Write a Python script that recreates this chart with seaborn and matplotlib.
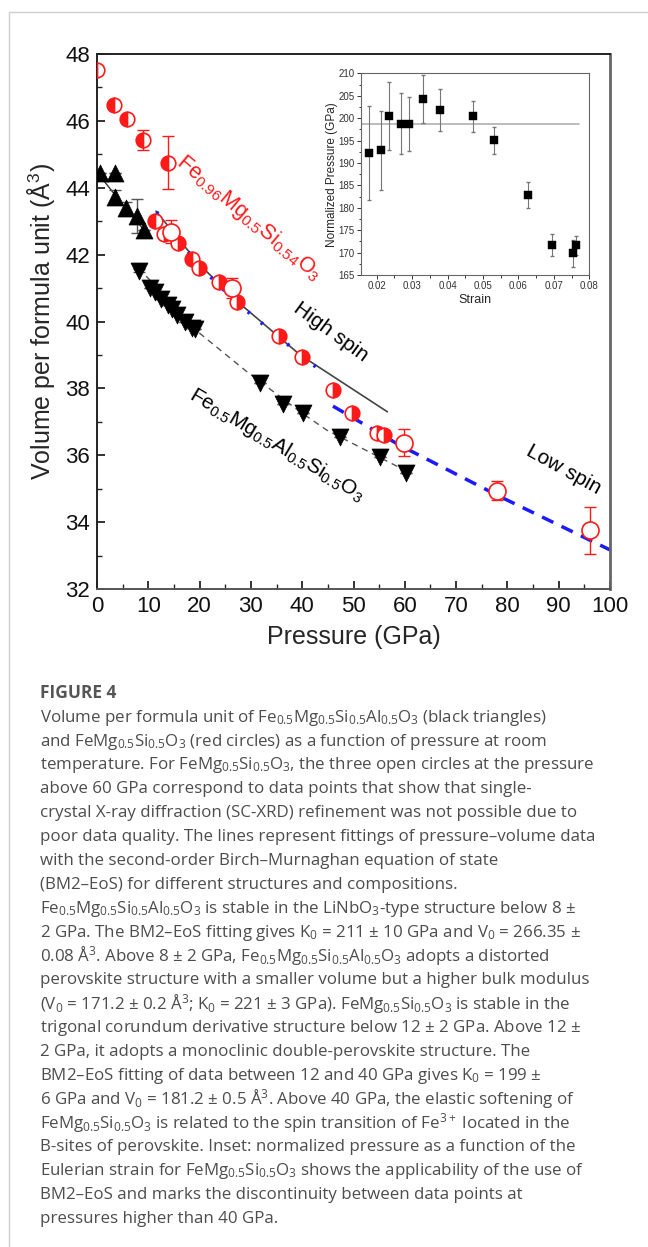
import matplotlib
matplotlib.use('Agg')
import matplotlib.pyplot as plt
import seaborn as sns
import pandas as pd
from matplotlib.lines import Line2D

# FeMg0.5Si0.5O3, corundum derivative (left half filled)
p_cor = [0.0, 3.4, 5.8, 9.0, 13.8]
v_cor = [47.52, 46.47, 46.05, 45.43, 44.75]
e_cor = [0.0, 0.0, 0.0, 0.3, 0.8]

# FeMg0.5Si0.5O3, double perovskite, left / right half filled
p_dp_left = [11.3, 18.45]
v_dp_left = [43.0, 41.86]
p_dp_right = [13.1, 15.85, 19.95, 23.85, 27.35, 35.5, 40.0, 46.1, 49.8, 54.5, 55.9]
v_dp_right = [42.62, 42.34, 41.59, 41.17, 40.57, 39.58, 38.95, 37.95, 37.25, 36.67, 36.6]

# open circles (no SC-XRD refinement)
p_open = [14.4, 26.3, 59.8, 78.0, 96.1]
v_open = [42.69, 40.99, 36.38, 34.94, 33.76]
e_open = [0.35, 0.3, 0.4, 0.28, 0.7]

# Fe0.5Mg0.5Al0.5Si0.5O3
p_lin = [0.6, 3.5, 3.5, 5.6, 7.7, 9.2]
v_lin = [44.45, 44.45, 43.73, 43.38, 43.15, 42.74]
e_lin = [0.0, 0.0, 0.2, 0.2, 0.5, 0.0]
p_pv = [8.1, 10.3, 11.3, 12.5, 13.8, 14.6, 15.5, 17.2, 18.6, 19.1,
        31.8, 36.2, 40.1, 47.4, 55.2, 60.2]
v_pv = [41.52, 41.0, 40.88, 40.68, 40.5, 40.38, 40.2, 40.0, 39.82, 39.78,
        38.17, 37.53, 37.27, 36.55, 35.94, 35.48]
e_pv = [0.05] + [0.0] * 15

# BM2-EoS fit curves
fit_lin_p = [0.7, 5.0, 9.7]
fit_lin_v = [44.33, 43.5, 42.64]
fit_pv_p = [8.1, 20.0, 29.2, 39.6, 44.8, 60.0]
fit_pv_v = [41.6, 39.65, 38.5, 37.3, 36.75, 35.55]
fit_hs_p = [11.5, 20.0, 27.35, 39.6, 56.6]
fit_hs_v = [43.3, 41.7, 40.6, 39.0, 37.3]
fit_hsb_p = [11.6, 20.0, 27.35, 35.5, 44.4]
fit_hsb_v = [43.28, 41.65, 40.55, 39.52, 38.43]
fit_ls_p = [46.0, 59.0, 78.6, 100.0]
fit_ls_v = [37.47, 36.3, 34.76, 33.17]

# inset: normalized pressure vs Eulerian strain
strain = [0.0179, 0.0211, 0.0236, 0.0269, 0.0291, 0.0331, 0.0380, 0.0472,
          0.0531, 0.0626, 0.0695, 0.0753, 0.0762]
norm_p = [192.3, 192.8, 200.4, 198.7, 198.7, 204.3, 201.8, 200.4,
          195.1, 182.8, 171.7, 169.8, 171.6]
norm_err = [10.5, 8.8, 7.6, 6.8, 6.1, 5.3, 4.7, 3.4, 3.0, 2.9, 2.4, 3.0, 2.1]
f0_level = 198.7
f0_strain = [0.0155, 0.0772]

caption_title = 'FIGURE 4'
caption_lines = [
    r'Volume per formula unit of Fe$_{0.5}$Mg$_{0.5}$Si$_{0.5}$Al$_{0.5}$O$_3$ (black triangles)',
    r'and FeMg$_{0.5}$Si$_{0.5}$O$_3$ (red circles) as a function of pressure at room',
    r'temperature. For FeMg$_{0.5}$Si$_{0.5}$O$_3$, the three open circles at the pressure',
    'above 60 GPa correspond to data points that show that single-',
    'crystal X-ray diffraction (SC-XRD) refinement was not possible due to',
    'poor data quality. The lines represent fittings of pressure\u2013volume data',
    'with the second-order Birch\u2013Murnaghan equation of state',
    '(BM2\u2013EoS) for different structures and compositions.',
    r'Fe$_{0.5}$Mg$_{0.5}$Si$_{0.5}$Al$_{0.5}$O$_3$ is stable in the LiNbO$_3$-type structure below 8 $\pm$',
    r'2 GPa. The BM2–EoS fitting gives K$_0$ = 211 $\pm$ 10 GPa and V$_0$ = 266.35 $\pm$',
    r'0.08 Å$^3$. Above 8 $\pm$ 2 GPa, Fe$_{0.5}$Mg$_{0.5}$Si$_{0.5}$Al$_{0.5}$O$_3$ adopts a distorted',
    'perovskite structure with a smaller volume but a higher bulk modulus',
    r'(V$_0$ = 171.2 $\pm$ 0.2 Å$^3$; K$_0$ = 221 $\pm$ 3 GPa). FeMg$_{0.5}$Si$_{0.5}$O$_3$ is stable in the',
    r'trigonal corundum derivative structure below 12 $\pm$ 2 GPa. Above 12 $\pm$',
    '2 GPa, it adopts a monoclinic double-perovskite structure. The',
    r'BM2–EoS fitting of data between 12 and 40 GPa gives K$_0$ = 199 $\pm$',
    r'6 GPa and V$_0$ = 181.2 $\pm$ 0.5 Å$^3$. Above 40 GPa, the elastic softening of',
    r'FeMg$_{0.5}$Si$_{0.5}$O$_3$ is related to the spin transition of Fe$^{3+}$ located in the',
    'B-sites of perovskite. Inset: normalized pressure as a function of the',
    r'Eulerian strain for FeMg$_{0.5}$Si$_{0.5}$O$_3$ shows the applicability of the use of',
    'BM2\u2013EoS and marks the discontinuity between data points at',
    'pressures higher than 40 GPa.',
]

sns.set_theme(style='ticks')
plt.rcParams['font.family'] = ['Liberation Sans', 'DejaVu Sans']
plt.rcParams['mathtext.default'] = 'regular'
plt.rcParams['xtick.direction'] = 'in'
plt.rcParams['ytick.direction'] = 'in'

W, H = 648, 1247
fig = plt.figure(figsize=(W / 100, H / 100), dpi=100)

# page frame
fig.add_artist(Line2D([8.5 / W, 8.5 / W], [0, 1 - 12 / H], color='#cfcfcf', lw=1))
fig.add_artist(Line2D([8.5 / W, 1], [1 - 12 / H, 1 - 12 / H], color='#cfcfcf', lw=1))

ax = fig.add_axes([97 / W, 1 - 589 / H, (610 - 97) / W, (589 - 54) / H])
red = '#ff1a1a'

# fit lines
sns.lineplot(x=fit_lin_p, y=fit_lin_v, ax=ax, color='#333333', lw=1, sort=False, estimator=None)
sns.lineplot(x=fit_pv_p, y=fit_pv_v, ax=ax, color='#555555', lw=1, sort=False, estimator=None,
             linestyle=(0, (4.5, 3.5)))
sns.lineplot(x=fit_hs_p, y=fit_hs_v, ax=ax, color='#444444', lw=1.2, sort=False, estimator=None)
sns.lineplot(x=fit_hsb_p, y=fit_hsb_v, ax=ax, color='#1a1aff', lw=2.6, sort=False, estimator=None,
             linestyle=(0, (0.7, 4.0)))
sns.lineplot(x=fit_ls_p, y=fit_ls_v, ax=ax, color='#1a1aff', lw=2.5, sort=False, estimator=None,
             linestyle=(0, (3.6, 2.6)))

# black triangles
ax.errorbar(p_lin, v_lin, yerr=e_lin, fmt='none', ecolor='#555555', elinewidth=1, capsize=4)
ax.errorbar(p_pv, v_pv, yerr=e_pv, fmt='none', ecolor='#555555', elinewidth=1, capsize=4)
sns.scatterplot(x=p_lin, y=v_lin, ax=ax, marker='^', s=150, color='black', edgecolor='black',
                linewidth=0.5, zorder=4)
sns.scatterplot(x=p_pv, y=v_pv, ax=ax, marker='v', s=150, color='black', edgecolor='black',
                linewidth=0.5, zorder=4)

# red circles
ax.errorbar(p_cor, v_cor, yerr=e_cor, fmt='none', ecolor=red, elinewidth=1, capsize=4)
ax.errorbar(p_open, v_open, yerr=e_open, fmt='none', ecolor=red, elinewidth=1, capsize=4)
half = dict(ls='none', marker='o', ms=10.5, mfc=red, mfcalt='white', mec=red, mew=1.2, zorder=5)
ax.plot(p_cor, v_cor, fillstyle='left', **half)
ax.plot(p_dp_left, v_dp_left, fillstyle='left', **half)
ax.plot(p_dp_right, v_dp_right, fillstyle='right', **half)
sns.scatterplot(x=p_open, y=v_open, ax=ax, marker='o', s=150, facecolor='white', edgecolor=red,
                linewidth=1.2, zorder=5)

ax.set_xlim(0, 100)
ax.set_ylim(32, 48)
ax.set_xticks(range(0, 101, 10))
ax.set_xticks(range(5, 100, 10), minor=True)
ax.set_yticks(range(32, 49, 2))
ax.set_yticks(range(33, 48, 2), minor=True)
ax.tick_params(which='major', length=6, width=1.2, labelsize=16, colors='#111111', pad=5)
ax.tick_params(which='minor', length=3.5, width=1.0)
ax.tick_params(top=False, right=False)
for s in ['left', 'bottom', 'top']:
    ax.spines[s].set_color('#222222')
    ax.spines[s].set_linewidth(1.4)
ax.spines['right'].set_color('#666666')
ax.spines['right'].set_linewidth(2)
ax.spines['bottom'].set_color('#555555')
ax.set_xlabel('Pressure (GPa)', fontsize=18, labelpad=6)
ax.set_ylabel('Volume per formula unit (Å$^3$)', fontsize=18, labelpad=6)

ax.text(29.6, 43.1, r'Fe$_{0.96}$Mg$_{0.5}$Si$_{0.54}$O$_3$', color=red, fontsize=15.5,
        rotation=-40, rotation_mode='anchor', ha='center', va='center')
ax.text(45.6, 39.69, 'High spin', color='black', fontsize=15,
        rotation=-36, rotation_mode='anchor', ha='center', va='center')
ax.text(90.9, 35.56, 'Low spin', color='black', fontsize=15,
        rotation=-29, rotation_mode='anchor', ha='center', va='center')
ax.text(35.0, 36.3, r'Fe$_{0.5}$Mg$_{0.5}$Al$_{0.5}$Si$_{0.5}$O$_3$', color='black', fontsize=15,
        rotation=-31, rotation_mode='anchor', ha='center', va='center')

# inset
ins = fig.add_axes([360.7 / W, 1 - 275 / H, (589.3 - 360.7) / W, (275 - 73.3) / H])
ins.plot(f0_strain, [f0_level, f0_level], color='#b0b0b0', lw=1.2)
ins.errorbar(strain, norm_p, yerr=norm_err, fmt='none', ecolor='#777777', elinewidth=0.8, capsize=1.5)
sns.scatterplot(x=strain, y=norm_p, ax=ins, marker='s', s=30, color='black', edgecolor='black',
                linewidth=0.3, zorder=4)
ins.set_xlim(0.0155, 0.08)
ins.set_ylim(165, 210)
ins.set_xticks([0.02, 0.03, 0.04, 0.05, 0.06, 0.07, 0.08])
ins.set_xticklabels(['0.02', '0.03', '0.04', '0.05', '0.06', '0.07', '0.08'])
ins.set_xticks([0.025, 0.035, 0.045, 0.055, 0.065, 0.075], minor=True)
ins.set_yticks(range(165, 211, 5))
ins.set_yticks([167.5 + 5 * i for i in range(9)], minor=True)
ins.tick_params(which='both', direction='out', labelsize=7, colors='#333333', width=0.7, pad=1.5)
ins.tick_params(which='major', length=3)
ins.tick_params(which='minor', length=1.8)
for s in ins.spines.values():
    s.set_color('#666666')
    s.set_linewidth(0.8)
ins.set_xlabel('Strain', fontsize=9, labelpad=2)
ins.set_ylabel('Normalized Pressure (GPa)', fontsize=8.5, labelpad=0.5)

# caption
cap_font = ['Open Sans', 'DejaVu Sans']
fig.text(40 / W, 1 - 693 / H, caption_title, fontsize=12.5, fontweight='bold', color='#555555',
         family=cap_font, va='center')
for i, line in enumerate(caption_lines):
    y = 717.7 + i * 23.87
    fig.text(40 / W, 1 - y / H, line, fontsize=12.2, color='#4d4d4d', family=cap_font, va='center')

fig.savefig('out.png', dpi=100)
